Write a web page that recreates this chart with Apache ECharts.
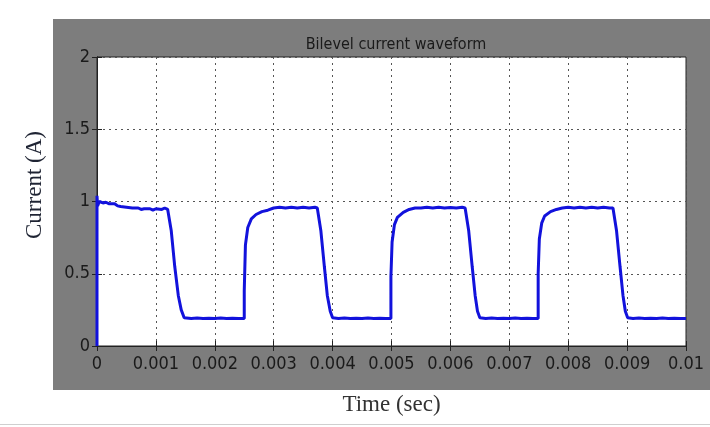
<!DOCTYPE html>
<html>
<head>
<meta charset="utf-8">
<script src="https://cdn.jsdelivr.net/npm/echarts@6/dist/echarts.min.js"></script>
<style>
  html, body { margin: 0; padding: 0; background: #fff; }
  #chart { width: 710px; height: 427px; }
</style>
</head>
<body>
<div id="chart"></div>
<script>
// Bilevel current waveform: time (s) and measured coil current (A)
const timeSec = [
  0, 0, 0.00001, 0.00004, 0.0001, 0.00015, 0.0002, 0.0003, 0.00035, 0.0004,
  0.0005, 0.0006, 0.0007, 0.00075, 0.0008, 0.0009, 0.00095, 0.001, 0.0011, 0.00115,
  0.0012, 0.00126, 0.00132, 0.00138, 0.00143, 0.00148,
  0.0016, 0.0017, 0.0018, 0.0019, 0.002, 0.0021, 0.0022, 0.0023, 0.0024, 0.0025,
  0.0025, 0.00252, 0.00256, 0.00262, 0.0027, 0.0028, 0.0029, 0.003, 0.0031, 0.0032,
  0.0033, 0.0034, 0.0035, 0.0036, 0.0037, 0.00374,
  0.0038, 0.00386, 0.00391, 0.00396, 0.004,
  0.0041, 0.0042, 0.0043, 0.0044, 0.0045, 0.0046, 0.0047, 0.0048, 0.0049, 0.00499,
  0.00499, 0.00501, 0.00505, 0.0051, 0.0052, 0.0053, 0.0054, 0.0055, 0.0056, 0.0057,
  0.0058, 0.0059, 0.006, 0.0061, 0.0062, 0.00625,
  0.00631, 0.00637, 0.00642, 0.00646, 0.0065,
  0.0066, 0.0067, 0.0068, 0.0069, 0.007, 0.0071, 0.0072, 0.0073, 0.0074, 0.00749,
  0.00749, 0.00751, 0.00755, 0.0076, 0.0077, 0.0078, 0.0079, 0.008, 0.0081, 0.0082,
  0.0083, 0.0084, 0.0085, 0.0086, 0.0087, 0.00876,
  0.00882, 0.00888, 0.00893, 0.00897, 0.00901,
  0.0091, 0.0092, 0.0093, 0.0094, 0.0095, 0.0096, 0.0097, 0.0098, 0.0099, 0.01
];
const currentA = [
  0, 1.04, 0.97, 1.0, 0.99, 0.995, 0.985, 0.985, 0.97, 0.965,
  0.96, 0.955, 0.955, 0.945, 0.95, 0.95, 0.94, 0.95, 0.945, 0.955,
  0.945, 0.80, 0.55, 0.35, 0.25, 0.195,
  0.19, 0.193, 0.19, 0.192, 0.19, 0.194, 0.19, 0.192, 0.19, 0.19,
  0.38, 0.70, 0.82, 0.88, 0.91, 0.93, 0.94, 0.955, 0.96, 0.955,
  0.96, 0.955, 0.96, 0.955, 0.96, 0.955,
  0.80, 0.55, 0.35, 0.24, 0.195,
  0.19, 0.193, 0.19, 0.192, 0.19, 0.194, 0.19, 0.192, 0.19, 0.19,
  0.48, 0.72, 0.84, 0.89, 0.925, 0.945, 0.955, 0.955, 0.96, 0.955,
  0.96, 0.955, 0.958, 0.955, 0.96, 0.955,
  0.80, 0.55, 0.35, 0.24, 0.195,
  0.19, 0.193, 0.19, 0.192, 0.19, 0.194, 0.19, 0.192, 0.19, 0.19,
  0.50, 0.74, 0.85, 0.90, 0.93, 0.945, 0.955, 0.96, 0.955, 0.96,
  0.955, 0.96, 0.955, 0.96, 0.955, 0.955,
  0.80, 0.55, 0.35, 0.24, 0.195,
  0.19, 0.193, 0.19, 0.192, 0.19, 0.194, 0.19, 0.192, 0.19, 0.19
];
const xTickLabels = ['0', '0.001', '0.002', '0.003', '0.004', '0.005', '0.006', '0.007', '0.008', '0.009', '0.01'];
const yTickLabels = ['0', '0.5', '1', '1.5', '2'];

const waveform = timeSec.map((t, i) => [t, currentA[i]]);

const tickFont = "'Liberation Sans Narrow', 'DejaVu Sans Condensed', 'Arial Narrow', sans-serif";
const serifFont = "'Liberation Serif', 'DejaVu Serif', serif";
const gridDots = { show: true, lineStyle: { color: '#555', width: 1, type: [2, 4] } };

const chart = echarts.init(document.getElementById('chart'), null, { renderer: 'canvas' });
chart.setOption({
  backgroundColor: '#ffffff',
  animation: false,
  title: {
    text: 'Bilevel current waveform',
    left: 391, top: 32, textAlign: 'center',
    textStyle: { fontFamily: tickFont, fontSize: 16, fontWeight: 'normal', color: '#1a1a1a' }
  },
  graphic: [
    { type: 'rect', z: -100, shape: { x: 53, y: 19, width: 657, height: 371 }, style: { fill: '#7d7d7d' } },
    { type: 'line', z: -100, shape: { x1: 0, y1: 424.5, x2: 710, y2: 424.5 }, style: { stroke: '#cfcfcf', lineWidth: 1 } },
    {
      type: 'text', x: 35, y: 185, rotation: Math.PI / 2,
      style: { text: 'Current (A)', fontFamily: serifFont, fontSize: 23, fill: '#1f2433', align: 'center', verticalAlign: 'middle' }
    }
  ],
  grid: {
    left: 97, top: 57, right: 24, bottom: 81,
    show: true, backgroundColor: '#ffffff', borderColor: '#222', borderWidth: 1
  },
  xAxis: [
    {
      type: 'value', min: 0, max: 0.01, interval: 0.001, position: 'bottom',
      name: 'Time (sec)', nameLocation: 'middle', nameGap: 47,
      nameTextStyle: { fontFamily: serifFont, fontSize: 23, color: '#333' },
      axisLine: { show: true, lineStyle: { color: '#222' } },
      axisTick: { show: true, inside: true, length: 5, lineStyle: { color: '#222' } },
      axisLabel: {
        margin: 9, fontFamily: tickFont, fontSize: 18, color: '#1a1a1a',
        formatter: (v, i) => xTickLabels[i]
      },
      splitLine: gridDots
    },
    {
      type: 'value', min: 0, max: 0.01, interval: 0.001, position: 'top',
      axisLine: { show: true, lineStyle: { color: '#222' } },
      axisTick: { show: true, inside: true, length: 5, lineStyle: { color: '#222' } },
      axisLabel: { show: false }, splitLine: { show: false }
    }
  ],
  yAxis: [
    {
      type: 'value', min: 0, max: 2, interval: 0.5, position: 'left',
      axisLine: { show: true, lineStyle: { color: '#222' } },
      axisTick: { show: true, inside: true, length: 5, lineStyle: { color: '#222' } },
      axisLabel: {
        margin: 7, fontFamily: tickFont, fontSize: 18, color: '#1a1a1a',
        formatter: (v, i) => yTickLabels[i]
      },
      splitLine: gridDots
    },
    {
      type: 'value', min: 0, max: 2, interval: 0.5, position: 'right',
      axisLine: { show: true, lineStyle: { color: '#222' } },
      axisTick: { show: true, inside: true, length: 5, lineStyle: { color: '#222' } },
      axisLabel: { show: false }, splitLine: { show: false }
    }
  ],
  series: [
    {
      type: 'line', xAxisIndex: 0, yAxisIndex: 0,
      data: waveform, showSymbol: false,
      lineStyle: { color: '#1212dc', width: 3 },
      z: 5
    }
  ]
});
</script>
</body>
</html>
